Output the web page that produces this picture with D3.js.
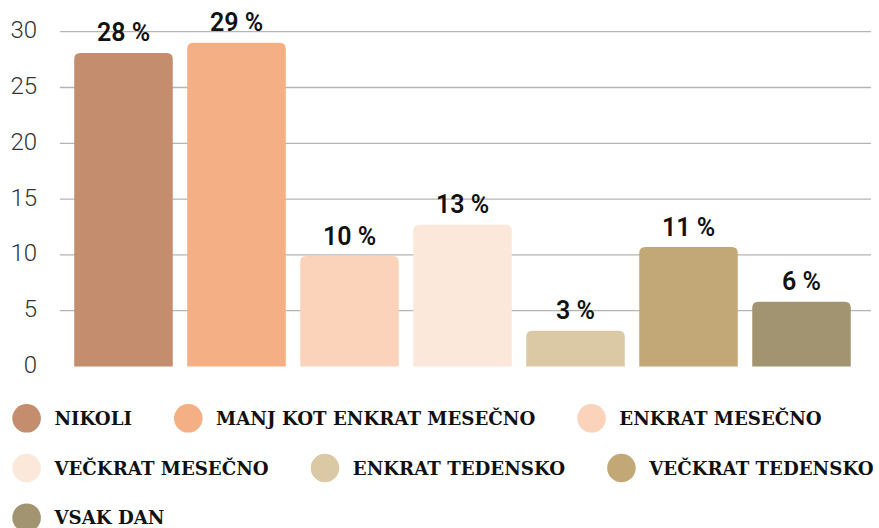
<!DOCTYPE html>
<html>
<head>
<meta charset="utf-8">
<script src="https://cdn.jsdelivr.net/npm/d3@7"></script>
<style>
  html, body { margin: 0; padding: 0; background: #fff; }
  svg { display: block; }
</style>
</head>
<body>
<svg id="chart" width="879" height="528"></svg>
<script>
// Pogostost – deleži odgovorov (%)
const categories = [
  "NIKOLI",
  "MANJ KOT ENKRAT MESEČNO",
  "ENKRAT MESEČNO",
  "VEČKRAT MESEČNO",
  "ENKRAT TEDENSKO",
  "VEČKRAT TEDENSKO",
  "VSAK DAN"
];
const values = [28.1, 29.0, 9.9, 12.7, 3.2, 10.7, 5.8];
const colors = ["#C38D6E", "#F5AF85", "#FBD3BB", "#FCE8DB", "#DBC9A6", "#C3A877", "#A39471"];
const yTicks = [0, 5, 10, 15, 20, 25, 30];

const W = 879, H = 528;
const svg = d3.select("#chart");

const x = d3.scaleBand()
  .domain(categories)
  .range([67, 858])
  .paddingInner(0.128)
  .paddingOuter(0.064);

const y = d3.scaleLinear().domain([0, 30]).range([366.5, 31.7]);

// horizontal grid lines
svg.append("g")
  .selectAll("line")
  .data(yTicks.filter(t => t > 0))
  .join("line")
  .attr("x1", 60).attr("x2", 871)
  .attr("y1", d => y(d)).attr("y2", d => y(d))
  .attr("stroke", "#b4b4b4")
  .attr("stroke-width", 1.3);

// y axis labels
const yAxis = d3.axisLeft(y).tickValues(yTicks).tickSize(0).tickPadding(0);
const gy = svg.append("g").attr("transform", "translate(37,0)").call(yAxis);
gy.select(".domain").remove();
gy.selectAll("text")
  .attr("x", 0)
  .attr("dy", 6)
  .attr("fill", "#333")
  .style("font-family", "Roboto, sans-serif")
  .style("font-weight", 300)
  .style("font-size", "24px");

// bars with rounded top corners
function topRounded(x0, y0, w, h, r) {
  r = Math.min(r, h, w / 2);
  return `M${x0},${y0 + h}V${y0 + r}Q${x0},${y0} ${x0 + r},${y0}` +
         `H${x0 + w - r}Q${x0 + w},${y0} ${x0 + w},${y0 + r}V${y0 + h}Z`;
}

svg.append("g")
  .selectAll("path")
  .data(categories)
  .join("path")
  .attr("d", (c, i) => topRounded(x(c), y(values[i]), x.bandwidth(), y(0) - y(values[i]), 6))
  .attr("fill", (c, i) => colors[i]);

// value labels
svg.append("g")
  .selectAll("text")
  .data(categories)
  .join("text")
  .attr("x", c => x(c) + x.bandwidth() / 2)
  .attr("y", (c, i) => y(values[i]) - 11.5)
  .attr("text-anchor", "middle")
  .attr("fill", "#111")
  .style("font-family", "Roboto, sans-serif")
  .style("font-weight", 600)
  .style("font-size", "25px")
  .text((c, i) => `${Math.round(values[i])} %`);

// legend: flowing rows of dot + label
const legend = svg.append("g");
const r = 14.3, textGap = 13.5, itemGap = 42, rowH = 49.7;
let lx = 12.3, ly = 418.3;
categories.forEach((c, i) => {
  const t = legend.append("text")
    .attr("y", ly)
    .attr("dy", "0.36em")
    .attr("fill", "#111")
    .style("font-family", "'DejaVu Serif', serif")
    .style("font-weight", 700)
    .style("font-size", "18.2px")
    .text(c);
  const tw = t.node().getComputedTextLength();
  if (lx + 2 * r + textGap + tw > W && lx > 20) {
    lx = 12.3;
    ly += rowH;
    t.attr("y", ly);
  }
  legend.append("circle")
    .attr("cx", lx + r).attr("cy", ly).attr("r", r)
    .attr("fill", colors[i]);
  t.attr("x", lx + 2 * r + textGap);
  lx = lx + 2 * r + textGap + tw + itemGap;
});
</script>
</body>
</html>
